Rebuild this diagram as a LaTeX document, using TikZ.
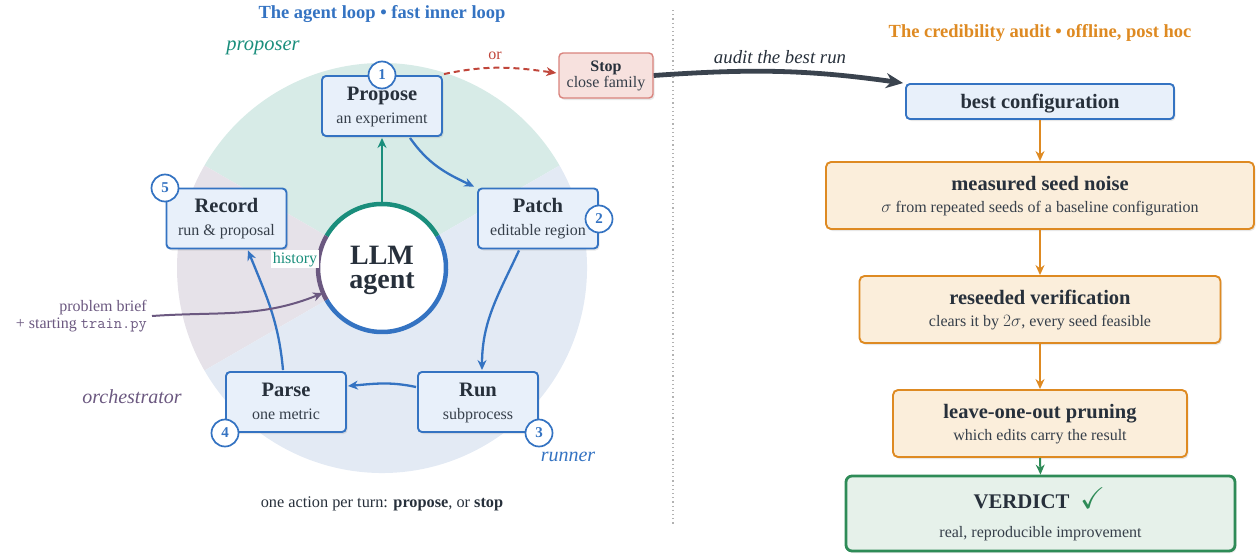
\documentclass[tikz,border=0pt]{standalone}
\usepackage{fontspec}
\setmainfont{Liberation Serif}
\usepackage{amssymb}
\usetikzlibrary{arrows.meta,shadows,calc}
\definecolor{ink}{HTML}{27303B}
\definecolor{ink2}{HTML}{363F4A}
\definecolor{bluel}{HTML}{3473C2}
\definecolor{bluef}{HTML}{E8F0FA}
\definecolor{tealc}{HTML}{1A8E7C}
\definecolor{purp}{HTML}{6B5880}
\definecolor{orng}{HTML}{DE8A22}
\definecolor{orngf}{HTML}{FBEEDB}
\definecolor{grn}{HTML}{2E8B57}
\definecolor{grnf}{HTML}{E6F1EA}
\definecolor{redc}{HTML}{C0453A}
\definecolor{redf}{HTML}{F7E1DE}
\definecolor{redb}{HTML}{D9837D}
\definecolor{secT}{HTML}{D7EBE7}
\definecolor{secP}{HTML}{E6E2E9}
\definecolor{secB}{HTML}{E3EAF4}
\definecolor{darkarrow}{HTML}{3A434E}
\begin{document}
\begin{tikzpicture}[x=1pt,y=1pt,
  fs/.style={font=\fontsize{#1}{#1}\selectfont},
  bfs/.style={font=\bfseries\fontsize{#1}{#1}\selectfont},
  ifs/.style={font=\itshape\fontsize{#1}{#1}\selectfont},
  shad/.style={drop shadow={opacity=0.18, shadow xshift=1.5pt, shadow yshift=-2pt}},
  bbox/.style={draw=bluel, fill=bluef, line width=1.9pt, rounded corners=4pt, shad,
    minimum width=120pt, minimum height=60pt, inner sep=0pt},
  obox/.style={draw=orng, fill=orngf, line width=1.9pt, rounded corners=5pt, shad,
    minimum height=67pt, inner sep=0pt},
  ttl/.style={anchor=base, bfs=20.5, text=ink, inner sep=0pt},
  sbt/.style={anchor=base, fs=16, text=ink2, inner sep=0pt},
  numc/.style={circle, draw=bluel, fill=white, line width=1.7pt, minimum size=27pt,
    inner sep=0pt, text=bluel, bfs=15},
  barrow/.style={draw=bluel, line width=2.3pt, -{Stealth[length=10pt,width=9pt]}},
  oarrow/.style={draw=orng, line width=2pt, -{Stealth[length=10pt,width=9pt]}},
]
\useasboundingbox (0,0) rectangle (1258,-554);

% ---- sectors ----
\coordinate (c) at (382,-268);
\fill[secT] (c) -- ++(30:205) arc[start angle=30,end angle=150,radius=205] -- cycle;
\fill[secP] (c) -- ++(150:205) arc[start angle=150,end angle=210,radius=205] -- cycle;
\fill[secB] (c) -- ++(210:205) arc[start angle=210,end angle=390,radius=205] -- cycle;

% ---- titles ----
\node[anchor=base, bfs=18.5, text=bluel] (t1) at (382,-18) {The agent loop • fast inner loop};
\node[anchor=base, bfs=18.5, text=orng] (t2) at (1040,-37) {The credibility audit • offline, post hoc};

% divider
\coordinate (d1) at (673,-10);
\coordinate (d2) at (673,-526);
\draw[gray!60, line width=1.1pt, dash pattern=on 1.2pt off 3pt] (d1) -- (d2);

% ---- region labels ----
\node[anchor=base, ifs=20.5, text=tealc] (lprop) at (263,-50) {proposer};
\node[anchor=base, ifs=20, text=purp] (lorch) at (132,-403) {orchestrator};
\node[anchor=base, ifs=20, text=bluel] (lrun) at (568,-461) {runner};

% ---- LLM agent ----
\node[circle, fill=white, minimum size=128pt, inner sep=0pt] (llm) at (c) {};
\draw[tealc, line width=4.5pt] (c) ++(30:64) arc[start angle=30,end angle=150,radius=64];
\draw[purp, line width=4.5pt] (c) ++(150:64) arc[start angle=150,end angle=210,radius=64];
\draw[bluel, line width=4.5pt] (c) ++(210:64) arc[start angle=210,end angle=390,radius=64];
\node[anchor=base, bfs=28, text=ink, inner sep=0pt] (llm1) at (382,-264) {LLM};
\node[anchor=base, bfs=28, text=ink, inner sep=0pt] (llm2) at (382,-288) {agent};

% ---- loop boxes ----
\node[bbox] (propose) at (382,-106) {};
\node[ttl] (propose-t) at ($(propose.center)+(0,6)$) {Propose};
\node[sbt] (propose-s) at ($(propose.center)+(0,-17)$) {an experiment};

\node[bbox] (patch) at (538,-218.5) {};
\node[ttl] (patch-t) at ($(patch.center)+(0,6)$) {Patch};
\node[sbt] (patch-s) at ($(patch.center)+(0,-17)$) {editable region};

\node[bbox] (run) at (478,-402) {};
\node[ttl] (run-t) at ($(run.center)+(0,6)$) {Run};
\node[sbt] (run-s) at ($(run.center)+(0,-17)$) {subprocess};

\node[bbox] (parse) at (286,-402) {};
\node[ttl] (parse-t) at ($(parse.center)+(0,6)$) {Parse};
\node[sbt] (parse-s) at ($(parse.center)+(0,-17)$) {one metric};

\node[bbox] (record) at (226.5,-218.5) {};
\node[ttl] (record-t) at ($(record.center)+(0,6)$) {Record};
\node[sbt] (record-s) at ($(record.center)+(0,-17)$) {run \& proposal};

% ---- loop arrows ----
\draw[barrow] ($(propose.south)+(28,-1)$) to[out=-55,in=155] ($(patch.north west)+(-3,1)$);
\draw[barrow] ($(patch.south)+(-19,-1)$) to[out=-115,in=90] ($(run.north)+(4,1)$);
\draw[barrow] ($(run.west)+(-1,15)$) to[out=168,in=5] ($(parse.east)+(1,16)$);
\draw[barrow] ($(parse.north)+(-3,1)$) to[out=95,in=-68] ($(record.south)+(21.5,-1)$);
\draw[tealc, line width=2.8pt, -{Stealth[length=10pt,width=9pt]}] (llm.north) -- ($(propose.south)+(0,-1)$);

% numbers
\node[numc] (n1) at (382,-75) {1};
\node[numc] (n2) at (599,-219) {2};
\node[numc] (n3) at (539,-433) {3};
\node[numc] (n4) at (225,-433) {4};
\node[numc] (n5) at (165,-188) {5};

% history
\node[anchor=base, fs=16, text=tealc, fill=white, inner sep=1.5pt] (hist) at (295,-263) {history};

% problem brief
\node[anchor=base east, fs=16, text=purp, inner sep=0pt] (brief1) at (147,-311) {problem brief};
\node[anchor=base east, fs=16, text=purp, inner sep=0pt] (brief2) at (147,-328) {+ starting \texttt{train.py}};
\coordinate (bstart) at (152,-316);
\draw[purp, line width=2pt, -{Stealth[length=10pt,width=9pt]}] (bstart) to[out=4,in=202] (llm.203);

% stop
\node[draw=redb, fill=redf, line width=1.4pt, rounded corners=4pt, shad,
  minimum width=94pt, minimum height=45pt, inner sep=0pt] (stop) at (606,-75.5) {};
\node[anchor=base, bfs=16, text=ink, inner sep=0pt] (stop-t) at ($(stop.center)+(0,4.5)$) {Stop};
\node[anchor=base, fs=16, text=ink2, inner sep=0pt] (stop-s) at ($(stop.center)+(0,-11.5)$) {close family};
\draw[redc, line width=2pt, dash pattern=on 6pt off 4pt, -{Stealth[length=10pt,width=9pt]}]
  ($(propose.north east)+(1,1)$) to[out=12,in=172] ($(stop.west)+(-2,2.5)$);
\node[anchor=base, fs=16, text=redc, inner sep=0pt] (orlbl) at (495,-59) {or};

% ---- audit column ----
\node[draw=bluel, fill=bluef, line width=1.9pt, rounded corners=4pt, shad,
  minimum width=268pt, minimum height=35pt, inner sep=0pt] (best) at (1040,-101.5) {};
\node[anchor=base, bfs=20.5, text=ink, inner sep=0pt] (best-t) at ($(best.center)+(0,-7)$) {best configuration};

\draw[darkarrow, line width=4.8pt, -{Stealth[length=17pt,width=15pt]}]
  (stop.east) to[out=4,in=172] ($(best.north west)+(-2,0)$);
\node[anchor=base, ifs=18.8, text=ink, inner sep=0pt] (auditlbl) at (780,-63) {audit the best run};

\node[obox, minimum width=428pt] (meas) at (1040,-195.5) {};
\node[ttl] (meas-t) at ($(meas.center)+(0,5.5)$) {measured seed noise};
\node[sbt] (meas-s) at ($(meas.center)+(0,-17)$) {$\sigma$ from repeated seeds of a baseline configuration};

\node[obox, minimum width=361pt] (reseed) at (1040,-309.5) {};
\node[ttl] (reseed-t) at ($(reseed.center)+(0,5.5)$) {reseeded verification};
\node[sbt] (reseed-s) at ($(reseed.center)+(0,-17)$) {clears it by $2\sigma$, every seed feasible};

\node[obox, minimum width=294pt] (loo) at (1040,-423.5) {};
\node[ttl] (loo-t) at ($(loo.center)+(0,5.5)$) {leave-one-out pruning};
\node[sbt] (loo-s) at ($(loo.center)+(0,-17)$) {which edits carry the result};

\node[draw=grn, fill=grnf, line width=2.8pt, rounded corners=6pt, shad,
  minimum width=389pt, minimum height=75pt, inner sep=0pt] (verdict) at (1040.5,-513.5) {};
\node[anchor=base, bfs=20.8, text=ink, inner sep=0pt] (verdict-t) at ($(verdict.center)+(-19,5.5)$) {VERDICT};
\node[anchor=base, fs=30, text=grn, inner sep=0pt] (verdict-c) at ($(verdict.center)+(52,5.5)$) {$\checkmark$};
\node[sbt] (verdict-s) at ($(verdict.center)+(0,-23.5)$) {real, reproducible improvement};

\draw[oarrow] (best.south) -- (meas.north);
\draw[oarrow] (meas.south) -- (reseed.north);
\draw[oarrow] (reseed.south) -- (loo.north);
\draw[grn, line width=2pt, -{Stealth[length=10pt,width=9pt]}] (loo.south) -- (verdict.north);

% bottom note
\node[anchor=base, fs=16.3, text=ink, inner sep=0pt] (note) at (382,-507)
  {one action per turn: \textbf{propose}, or \textbf{stop}};
\end{tikzpicture}
\end{document}
